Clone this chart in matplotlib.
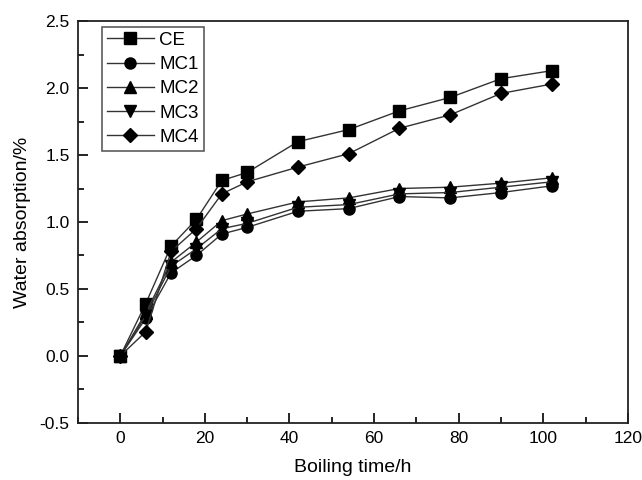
import matplotlib
matplotlib.use("Agg")
import matplotlib.pyplot as plt
from matplotlib.ticker import MultipleLocator

plt.rcParams['font.family'] = ['Liberation Sans', 'DejaVu Sans']

# boiling time (h)
hours = [0, 6, 12, 18, 24, 30, 42, 54, 66, 78, 90, 102]

# water absorption (%)
ce = [0, 0.39, 0.82, 1.02, 1.31, 1.37, 1.60, 1.69, 1.83, 1.93, 2.07, 2.13]
mc1 = [0, 0.28, 0.62, 0.75, 0.91, 0.96, 1.08, 1.10, 1.19, 1.18, 1.22, 1.27]
mc2 = [0, 0.32, 0.70, 0.85, 1.01, 1.06, 1.15, 1.18, 1.25, 1.26, 1.29, 1.33]
mc3 = [0, 0.30, 0.67, 0.80, 0.95, 0.99, 1.11, 1.13, 1.21, 1.22, 1.26, 1.30]
mc4 = [0, 0.18, 0.78, 0.95, 1.21, 1.30, 1.41, 1.51, 1.70, 1.80, 1.96, 2.03]

series = [("CE", ce, "s"), ("MC1", mc1, "o"), ("MC2", mc2, "^"),
          ("MC3", mc3, "v"), ("MC4", mc4, "D")]

fig = plt.figure(figsize=(6.42, 4.8), dpi=100)
ax = fig.add_axes([0.1215, 0.119, 0.8565, 0.837])

for name, vals, mk in series:
    ms = 7 if mk == "D" else 8
    ax.plot(hours, vals, marker=mk, color="#333333", mfc="black", mec="black",
            lw=1.0, ms=ms, label=name)

ax.set_xlim(-10, 120)
ax.set_ylim(-0.5, 2.5)
ax.xaxis.set_major_locator(MultipleLocator(20))
ax.xaxis.set_minor_locator(MultipleLocator(10))
ax.yaxis.set_major_locator(MultipleLocator(0.5))
ax.yaxis.set_minor_locator(MultipleLocator(0.25))
ax.tick_params(which="both", direction="in", top=False, right=False, labelsize=12.5)
ax.tick_params(which="major", length=7, width=1.2, pad=6)
ax.tick_params(which="minor", length=4, width=1.2)
ax.set_xticks([0, 20, 40, 60, 80, 100, 120])
ax.set_xticklabels(["0", "20", "40", "60", "80", "100", "120"])
ax.set_yticklabels([f"{v:.1f}" for v in ax.get_yticks()])

for sp in ax.spines.values():
    sp.set_linewidth(1.3)
    sp.set_color("#222222")

ax.set_xlabel("Boiling time/h", fontsize=14, labelpad=9)
ax.set_ylabel("Water absorption/%", fontsize=14, labelpad=6)

leg = ax.legend(loc="upper left", bbox_to_anchor=(0.044, 0.985), fontsize=13.5,
                frameon=True, fancybox=False, edgecolor="#333333", borderaxespad=0,
                handlelength=2.5, labelspacing=0.38, borderpad=0.25, handletextpad=0.3)
leg.get_frame().set_linewidth(1.2)

fig.savefig("out.png", dpi=100)
